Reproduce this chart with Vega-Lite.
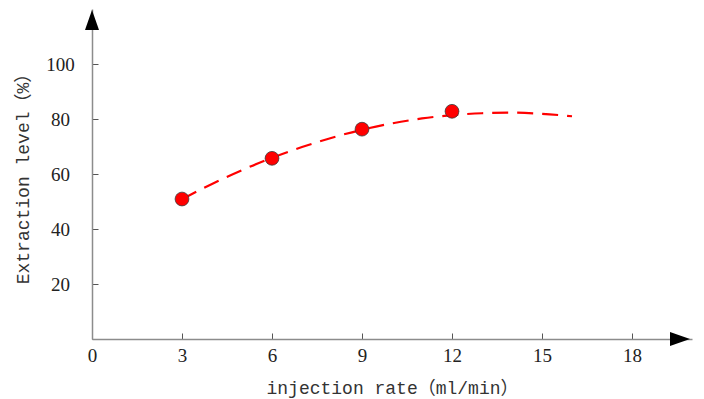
{
  "$schema": "https://vega.github.io/schema/vega-lite/v6.json",
  "autosize": {"type": "none"},
  "padding": {"left": 92, "top": 9, "right": 12, "bottom": 60},
  "width": 600,
  "height": 330,
  "background": "white",
  "config": {"view": {"stroke": null}},
  "datasets": {
    "measured": [
      {"rate": 3, "level": 50.9},
      {"rate": 6, "level": 65.7},
      {"rate": 9, "level": 76.3},
      {"rate": 12, "level": 82.8}
    ],
    "fit": [
      {"rate": 3, "level": 50.8},
      {"rate": 4, "level": 56.4},
      {"rate": 5, "level": 61.4},
      {"rate": 6, "level": 65.9},
      {"rate": 7, "level": 69.8},
      {"rate": 8, "level": 73.2},
      {"rate": 9, "level": 76.1},
      {"rate": 10, "level": 78.4},
      {"rate": 11, "level": 80.2},
      {"rate": 12, "level": 81.4},
      {"rate": 13, "level": 82.1},
      {"rate": 14, "level": 82.3},
      {"rate": 15, "level": 81.9},
      {"rate": 16, "level": 81.0}
    ]
  },
  "encoding": {
    "x": {
      "field": "rate", "type": "quantitative",
      "scale": {"domain": [0, 20], "nice": false, "zero": false},
      "axis": {
        "title": "injection rate（ml/min）",
        "values": [0, 3, 6, 9, 12, 15, 18],
        "grid": false,
        "labelFlush": false,
        "domainColor": "#8c8c8c", "domainWidth": 1.5,
        "tickColor": "#555555", "tickSize": -6, "tickWidth": 1,
        "labelFont": "Liberation Serif", "labelFontSize": 19, "labelColor": "#222222",
        "labelPadding": 13,
        "titleFont": "Liberation Mono, Noto Sans CJK SC", "titleFontSize": 18, "titleFontWeight": "normal",
        "titleColor": "#333333", "titlePadding": 14
      }
    },
    "y": {
      "field": "level", "type": "quantitative",
      "scale": {"domain": [0, 120], "nice": false},
      "axis": {
        "title": "Extraction level（%）",
        "values": [20, 40, 60, 80, 100],
        "grid": false,
        "labelFlush": false,
        "labelAlign": "center",
        "domainColor": "#8c8c8c", "domainWidth": 1.5,
        "tickColor": "#555555", "tickSize": -6, "tickWidth": 1,
        "labelFont": "Liberation Serif", "labelFontSize": 19, "labelColor": "#222222",
        "labelPadding": 38,
        "titleFont": "Liberation Mono, Noto Sans CJK SC", "titleFontSize": 18, "titleFontWeight": "normal",
        "titleColor": "#333333", "titlePadding": 13
      }
    }
  },
  "layer": [
    {
      "data": {"name": "fit"},
      "mark": {"type": "line", "color": "#ff0000", "strokeWidth": 2.2, "strokeDash": [16, 9], "interpolate": "monotone"}
    },
    {
      "data": {"name": "measured"},
      "mark": {"type": "point", "filled": true, "fill": "#ff0000", "stroke": "#3a3a3a", "strokeWidth": 0.8, "size": 190, "opacity": 1, "shape": "circle"}
    },
    {
      "data": {"values": [{"rate": 0, "level": 116}]},
      "mark": {"type": "point", "filled": true, "color": "black", "opacity": 1, "size": 400, "shape": "M0,-1L0.7,1L-0.7,1Z"}
    },
    {
      "data": {"values": [{"rate": 19.6, "level": 0}]},
      "mark": {"type": "point", "filled": true, "color": "black", "opacity": 1, "size": 400, "shape": "M1,0L-1,0.7L-1,-0.7Z"}
    }
  ]
}
